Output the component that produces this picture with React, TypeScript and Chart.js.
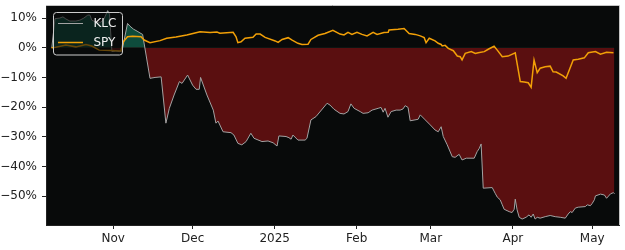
import React, { useEffect, useRef } from "react";
import { Chart, registerables } from "chart.js";

Chart.register(...registerables);

// x values are days since 2024-10-01
const tickDays = [31, 61, 92, 123, 151, 182, 212];
const tickLabels = ["Nov", "Dec", "2025", "Feb", "Mar", "Apr", "May"];
const yTicks = [-50, -40, -30, -20, -10, 0, 10];

const klcDays = [
  7.8, 9.0, 10.8, 12.0, 13.1, 14.6, 16.9, 18.4, 19.9, 21.4, 22.2, 22.9, 24.5, 26.3, 27.5, 28.9, 29.6,
  30.5, 32.0, 33.5, 34.3, 36.4, 37.3, 38.6, 40.0, 41.5, 42.1, 44.9, 46.8, 49.1, 50.9, 52.2, 54.0,
  56.0, 57.0, 59.1, 61.0, 62.3, 63.5, 64.0, 66.4, 68.8, 69.8, 70.6, 72.5, 75.5, 76.6, 78.1, 79.6,
  81.2, 83.0, 84.2, 87.2, 89.5, 91.4, 92.9, 93.6, 96.3, 97.4, 98.2, 98.9, 100.8, 103.5, 104.2,
  105.7, 107.6, 111.8, 112.9, 114.4, 116.7, 118.2, 119.7, 120.8, 122.0, 124.3, 125.4, 127.3,
  128.8, 131.1, 132.2, 133.0, 133.7, 134.8, 136.0, 137.9, 139.4, 140.5, 141.3, 142.4, 143.2,
  146.2, 147.0, 148.9, 150.8, 152.6, 153.8, 154.9, 155.7, 157.2, 159.1, 160.2, 161.7, 162.8,
  164.4, 167.4, 168.5, 169.3, 170.0, 170.8, 174.2, 175.3, 176.1, 177.2, 178.0, 178.7, 180.6,
  181.7, 182.5, 182.9, 183.6, 184.4, 185.5, 187.0, 188.1, 188.9, 189.7, 190.4, 191.2, 192.3,
  194.2, 196.1, 198.0, 199.9, 201.8, 202.9, 203.7, 204.4, 205.6, 206.7, 209.4, 210.1, 211.3,
  212.0, 212.8, 213.2, 215.1, 216.6, 217.4, 218.9, 220.0, 220.4,
];
const klcValues = [
  0, 9.8, 10.0, 10.4, 9.7, 9.0, 9.0, 9.3, 10.0, 11.0, 11.0, 9.3, 8.6, 8.6, 9.7, 12.5, 11.3,
  -1.3, -1.1, -1.3, -1.1, 8.2, 7.3, 6.3, 5.6, 4.8, 4.5, -10.3, -10.0, -9.8, -25.4, -20.4, -15.9,
  -11.4, -12.0, -9.2, -12.6, -14.0, -14.0, -10.0, -15.9, -21.0, -25.4, -24.7, -28.3, -28.6, -29.4, -32.2, -32.7,
  -31.6, -28.8, -30.5, -31.6, -31.4, -32.0, -33.1, -29.7, -29.9, -30.3, -30.8, -29.4, -31.1, -31.1, -30.5,
  -24.3, -23.2, -18.7, -19.3, -20.7, -22.1, -22.3, -21.5, -18.9, -20.4, -21.5, -22.1, -21.9,
  -21.0, -20.4, -20.1, -21.7, -20.4, -23.4, -21.5, -21.0, -21.0, -20.6, -19.5, -20.1, -24.6,
  -24.1, -22.6, -24.3, -26.0, -27.7, -28.3, -26.6, -29.9, -32.7, -36.7, -36.9, -35.9, -37.8,
  -37.2, -37.2, -35.0, -33.9, -32.4, -47.3, -47.1, -49.0, -50.3, -51.2, -52.9, -54.4, -55.2,
  -55.5, -54.4, -51.0, -54.6, -57.1, -57.7, -57.1, -56.3, -57.1, -56.0, -57.7, -57.1, -57.4,
  -56.9, -56.5, -56.9, -57.1, -57.4, -56.0, -55.2, -55.5, -54.0, -53.7, -53.5, -52.9, -53.2,
  -52.4, -51.2, -49.9, -49.3, -49.6, -50.7, -49.2, -48.8, -49.2,
];

const spyDays = [
  7.7, 9.3, 13.1, 16.9, 20.7, 22.9, 25.7, 29.8, 33.9, 34.8, 36.4, 38.3, 41.5, 42.7, 44.9, 48.7,
  51.2, 54.7, 58.8, 63.8, 67.6, 70.2, 71.3, 76.3, 77.4, 78.1, 79.3, 80.8, 83.8, 85.0, 86.5, 88.4,
  92.2, 93.3, 94.8, 97.1, 98.6, 100.8, 102.3, 104.6, 105.7, 108.4, 111.0, 114.0, 116.7, 118.2,
  119.7, 121.2, 123.1, 125.0, 126.9, 129.2, 130.7, 133.3, 134.9, 135.2, 138.6, 140.9, 142.8,
  145.1, 147.0, 148.5, 149.2, 150.4, 152.6, 153.8, 154.9, 155.3, 156.4, 157.6, 159.5, 161.0,
  162.1, 162.8, 164.0, 166.3, 167.8, 168.9, 171.2, 172.7, 174.9, 176.1, 178.0, 180.2, 182.9,
  184.8, 186.3, 187.8, 188.9, 190.0, 191.2, 192.3, 194.2, 196.1, 197.2, 198.4, 201.0, 202.1,
  204.8, 206.7, 209.0, 210.5, 213.2, 215.1, 217.4, 220.0,
];
const spyValues = [
  0, 0.2, 0.9, 0.3, 1.1, 0.6, -0.8, -0.9, -1.1, 2.0, 3.7, 3.9, 3.7, 2.6, 1.7, 2.4,
  3.2, 3.6, 4.3, 5.4, 5.1, 5.3, 4.9, 5.2, 3.7, 1.7, 2.0, 3.2, 3.5, 4.6, 4.6, 3.5,
  2.3, 1.8, 2.8, 3.4, 2.6, 1.5, 1.1, 1.2, 2.8, 4.2, 4.8, 5.9, 4.6, 4.3,
  5.2, 4.5, 5.2, 4.5, 4.0, 5.2, 4.5, 5.1, 5.2, 6.0, 6.2, 6.5, 4.8,
  4.5, 4.0, 3.4, 1.7, 3.2, 2.3, 1.5, 1.1, 0.6, 0.8, -0.2, -1.0, -2.8,
  -3.0, -4.1, -1.9, -1.3, -1.9, -1.7, -1.3, -0.5, 0.5, -0.8, -3.0, -2.8, -1.7,
  -11.4, -11.5, -11.8, -13.3, -4.1, -8.4, -6.9, -6.4, -6.2, -8.1, -8.2, -9.5, -10.3,
  -4.1, -3.9, -3.4, -1.7, -1.3, -2.2, -1.5, -1.7,
];

const BG = "#080a0a";
const RED = "#5a0f10";
const GREEN = "#0e4c3c";
const KLC_COLOR = "#a3a3a3";
const SPY_COLOR = "#f2a007";
const TEXT = "#222222";
const FONT = "'DejaVu Sans', sans-serif";

const frame = {
  id: "frame",
  beforeDraw(chart: any) {
    const { ctx, chartArea: a } = chart;
    ctx.save();
    ctx.fillStyle = BG;
    ctx.fillRect(a.left, a.top, a.right - a.left, a.bottom - a.top);
    ctx.restore();
  },
  afterDraw(chart: any) {
    const { ctx, chartArea: a } = chart;
    ctx.save();
    ctx.strokeStyle = "#c4c4c4";
    ctx.lineWidth = 1;
    ctx.beginPath();
    ctx.moveTo(a.left, a.top + 0.5);
    ctx.lineTo(a.right + 0.5, a.top + 0.5);
    ctx.lineTo(a.right + 0.5, a.bottom);
    ctx.stroke();

    // legend
    const x0 = 53.5, y0 = 12.5, w = 69, h = 42.5, r = 3;
    ctx.beginPath();
    ctx.moveTo(x0 + r, y0);
    ctx.lineTo(x0 + w - r, y0);
    ctx.quadraticCurveTo(x0 + w, y0, x0 + w, y0 + r);
    ctx.lineTo(x0 + w, y0 + h - r);
    ctx.quadraticCurveTo(x0 + w, y0 + h, x0 + w - r, y0 + h);
    ctx.lineTo(x0 + r, y0 + h);
    ctx.quadraticCurveTo(x0, y0 + h, x0, y0 + h - r);
    ctx.lineTo(x0, y0 + r);
    ctx.quadraticCurveTo(x0, y0, x0 + r, y0);
    ctx.closePath();
    ctx.fillStyle = "rgba(8,10,10,0.6)";
    ctx.fill();
    ctx.strokeStyle = "#cccccc";
    ctx.stroke();

    const items = [
      { label: "KLC", color: KLC_COLOR, y: 23.5, lw: 1 },
      { label: "SPY", color: SPY_COLOR, y: 42.5, lw: 1.5 },
    ];
    ctx.font = `12px ${FONT}`;
    ctx.textBaseline = "middle";
    ctx.textAlign = "left";
    for (const it of items) {
      ctx.strokeStyle = it.color;
      ctx.lineWidth = it.lw;
      ctx.beginPath();
      ctx.moveTo(58, it.y);
      ctx.lineTo(83, it.y);
      ctx.stroke();
      ctx.fillStyle = "#f0f0f0";
      ctx.fillText(it.label, 93.5, it.y + 0.5);
    }
    ctx.restore();
  },
};

export default function App() {
  const ref = useRef<HTMLCanvasElement | null>(null);

  useEffect(() => {
    if (!ref.current) return;
    Chart.defaults.font.family = FONT;
    const chart = new Chart(ref.current, {
      type: "line",
      data: {
        datasets: [
          {
            label: "SPY",
            data: spyDays.map((d, i) => ({ x: d, y: spyValues[i] })),
            borderColor: SPY_COLOR,
            borderWidth: 1.5,
            pointRadius: 0,
            fill: false,
            tension: 0,
          },
          {
            label: "KLC",
            data: klcDays.map((d, i) => ({ x: d, y: klcValues[i] })),
            borderColor: KLC_COLOR,
            borderWidth: 1,
            pointRadius: 0,
            tension: 0,
            fill: { target: { value: 0 }, above: GREEN, below: RED },
          },
        ],
      },
      options: {
        responsive: false,
        animation: false,
        devicePixelRatio: 1,
        layout: { padding: { top: 5, right: 6, left: 0, bottom: 0 } },
        plugins: { legend: { display: false }, tooltip: { enabled: false } },
        scales: {
          x: {
            type: "linear",
            min: 5.6,
            max: 222.1,
            afterBuildTicks: (axis: any) => {
              axis.ticks = tickDays.map((v) => ({ value: v }));
            },
            afterFit: (s: any) => {
              s.height = 25;
              s.paddingLeft = 0;
              s.paddingRight = 0;
            },
            ticks: {
              autoSkip: false,
              maxRotation: 0,
              padding: 3,
              color: TEXT,
              font: { size: 12, family: FONT },
              callback: (_v: any, i: number) => tickLabels[i],
            },
            grid: { drawOnChartArea: false, drawTicks: true, tickLength: 4, color: "#222" },
            border: { color: "#222" },
          },
          y: {
            type: "linear",
            min: -59.7,
            max: 14.4,
            afterBuildTicks: (axis: any) => {
              axis.ticks = yTicks.map((v) => ({ value: v }));
            },
            afterFit: (s: any) => {
              s.width = 46;
              s.paddingTop = 0;
              s.paddingBottom = 0;
            },
            ticks: {
              padding: 5,
              color: TEXT,
              font: { size: 12, family: FONT },
              callback: (v: any) => `${v < 0 ? "\u2212" : ""}${Math.abs(v)}%`,
            },
            grid: { drawOnChartArea: false, drawTicks: true, tickLength: 4, color: "#222" },
            border: { color: "#222" },
          },
        },
      },
      plugins: [frame],
    });
    return () => chart.destroy();
  }, []);

  return (
    <div style={{ position: "absolute", left: 0, top: 0, width: 625, height: 250, background: "#fff" }}>
      <canvas ref={ref} width={625} height={250} style={{ display: "block" }} />
    </div>
  );
}
